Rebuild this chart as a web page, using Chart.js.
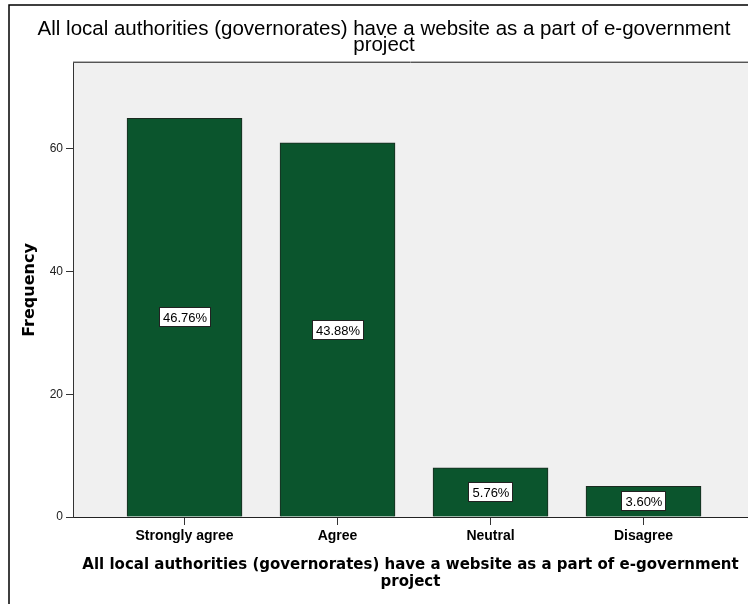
<!DOCTYPE html>
<html>
<head>
<meta charset="utf-8">
<script src="https://cdn.jsdelivr.net/npm/chart.js@4"></script>
<style>
  html, body { margin: 0; padding: 0; background: #fff; }
  canvas { display: block; }
</style>
</head>
<body>
<canvas id="chart" width="748" height="604"></canvas>
<script>
const categories = ['Strongly agree', 'Agree', 'Neutral', 'Disagree'];
const frequencies = [65, 61, 8, 5];
const yTicks = [0, 20, 40, 60];
const titleLines = ['All local authorities (governorates) have a website as a part of e-government', 'project'];
const yLabel = 'Frequency';

// percentage of all answers, shown inside each bar
const total = frequencies.reduce((a, b) => a + b, 0);
const percentLabels = frequencies.map(v => (v / total * 100).toFixed(2) + '%');

// white page, grey plot area and the outer frame
const framePlugin = {
    id: 'frame',
    beforeDraw(chart) {
        const { ctx, chartArea: a, width, height } = chart;
        ctx.save();
        ctx.fillStyle = '#fff';
        ctx.fillRect(0, 0, width, height);
        ctx.fillStyle = '#f0f0f0';
        ctx.fillRect(a.left, a.top, a.right - a.left, a.bottom - a.top);
        // plot top edge
        ctx.strokeStyle = '#b4b4b4';
        ctx.lineWidth = 1;
        ctx.beginPath();
        ctx.moveTo(a.left, a.top - 1.5);
        ctx.lineTo(a.right, a.top - 1.5);
        ctx.stroke();
        ctx.strokeStyle = '#555';
        ctx.beginPath();
        ctx.moveTo(a.left, a.top - 0.5);
        ctx.lineTo(a.right, a.top - 0.5);
        ctx.stroke();
        // outer border (left and top)
        ctx.strokeStyle = '#000';
        ctx.lineWidth = 1.5;
        ctx.beginPath();
        ctx.moveTo(9, height);
        ctx.lineTo(9, 5);
        ctx.lineTo(width, 5);
        ctx.stroke();
        ctx.restore();
    }
};

// boxed percentage in the middle of every bar
const boxLabels = {
    id: 'boxLabels',
    afterDatasetsDraw(chart) {
        const { ctx } = chart;
        const meta = chart.getDatasetMeta(0);
        ctx.save();
        ctx.font = '13px "Liberation Sans", Arial, sans-serif';
        ctx.textAlign = 'center';
        ctx.textBaseline = 'middle';
        meta.data.forEach((bar, i) => {
            const text = percentLabels[i];
            const cx = Math.round(bar.x);
            const cy = Math.round((bar.y + bar.base) / 2);
            const w = Math.round(ctx.measureText(text).width) + 8;
            const h = 20;
            const x0 = cx - Math.round(w / 2), y0 = cy - Math.round(h / 2);
            ctx.fillStyle = '#fff';
            ctx.fillRect(x0, y0, w, h);
            ctx.strokeStyle = '#222';
            ctx.lineWidth = 1;
            ctx.strokeRect(x0 + 0.5, y0 + 0.5, w - 1, h - 1);
            ctx.fillStyle = '#000';
            ctx.fillText(text, cx, cy + 1);
        });
        ctx.restore();
    }
};

const ctx = document.getElementById('chart').getContext('2d');
new Chart(ctx, {
    type: 'bar',
    data: {
        datasets: [{
            data: frequencies.map((v, i) => ({ x: i, y: v })),
            backgroundColor: '#0b552d',
            borderColor: '#1b2a20',
            borderWidth: 1,
            barThickness: 115
        }]
    },
    options: {
        responsive: false,
        animation: false,
        devicePixelRatio: 1,
        layout: { padding: { left: 20, top: 0, right: 0, bottom: 0 } },
        plugins: {
            legend: { display: false },
            tooltip: { enabled: false },
            title: {
                display: true,
                text: titleLines,
                color: '#000',
                font: { family: '"Liberation Sans", Arial, sans-serif', size: 20.5, weight: 'normal', lineHeight: '16px' },
                padding: { top: 21, bottom: 10 }
            }
        },
        scales: {
            x: {
                type: 'linear',
                min: -0.729,
                max: 3.683,
                offset: false,
                afterBuildTicks: s => { s.ticks = categories.map((c, i) => ({ value: i })); },
                afterFit: s => { s.height = 87; },
                ticks: {
                    callback: v => categories[v],
                    color: '#000',
                    font: { family: '"Liberation Sans", Arial, sans-serif', size: 14, weight: 'bold' },
                    padding: 3,
                    autoSkip: false,
                    maxRotation: 0
                },
                grid: { offset: false, drawOnChartArea: false, drawTicks: true, tickLength: 8, color: '#333' },
                border: { color: '#222', width: 1 },
                title: {
                    display: true,
                    text: titleLines,
                    color: '#000',
                    font: { family: '"DejaVu Sans", Verdana, sans-serif', size: 15, weight: 'bold', lineHeight: '17px' },
                    padding: { top: 0, bottom: 13 }
                }
            },
            y: {
                type: 'linear',
                min: 0,
                max: 74,
                afterBuildTicks: s => { s.ticks = yTicks.map(v => ({ value: v })); },
                afterFit: s => { s.width = 53; },
                ticks: {
                    color: '#222',
                    font: { family: '"Liberation Sans", Arial, sans-serif', size: 12 },
                    padding: 3
                },
                grid: { drawOnChartArea: false, drawTicks: true, tickLength: 7, color: '#333' },
                border: { color: '#333', width: 1 },
                title: {
                    display: true,
                    text: yLabel,
                    color: '#000',
                    font: { family: '"DejaVu Sans", Verdana, sans-serif', size: 16, weight: 'bold', lineHeight: '17px' },
                    padding: { top: 1.5, bottom: 0 }
                }
            }
        }
    },
    plugins: [framePlugin, boxLabels]
});
</script>
</body>
</html>
